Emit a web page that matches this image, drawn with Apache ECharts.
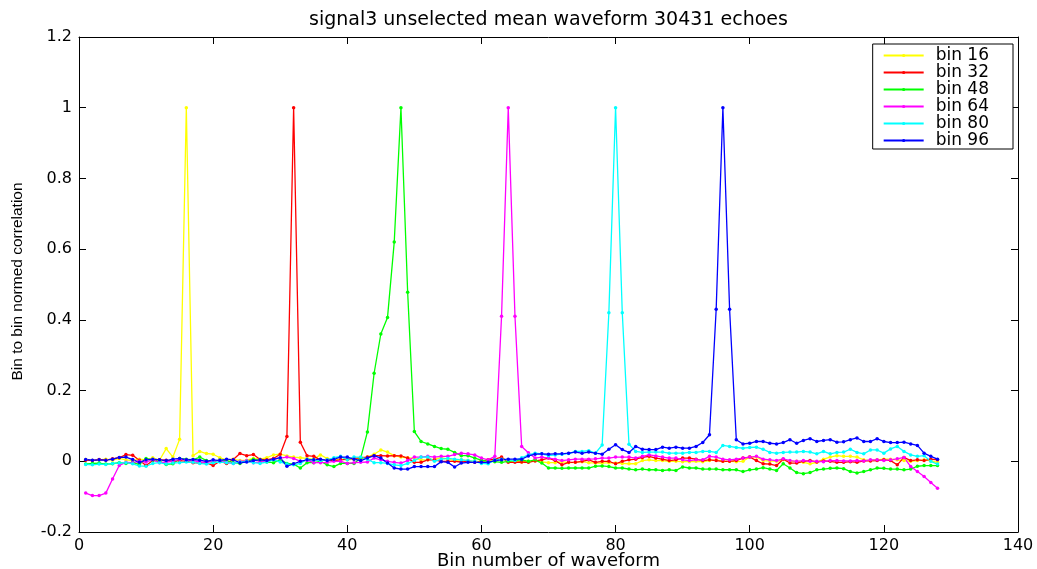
<!DOCTYPE html>
<html>
<head>
<meta charset="utf-8">
<script src="https://cdn.jsdelivr.net/npm/echarts/dist/echarts.min.js"></script>
<style>
html,body{margin:0;padding:0;background:#fff;}
#chart{width:1037px;height:569px;}
</style>
</head>
<body>
<div id="chart"></div>
<script>
const titleText = 'signal3 unselected mean waveform 30431 echoes';
const xName = 'Bin number of waveform';
const yName = 'Bin to bin normed correlation';
const seriesNames = ['bin 16', 'bin 32', 'bin 48', 'bin 64', 'bin 80', 'bin 96'];
const seriesColors = ['#ffff00', '#ff0000', '#00ff00', '#ff00ff', '#00ffff', '#0000ff'];
const xTicks = [0, 20, 40, 60, 80, 100, 120, 140];
const yTicks = [-0.2, 0, 0.2, 0.4, 0.6, 0.8, 1, 1.2];

const bin16 = [
 0.005, 0.002, 0.004, 0.006, 0.003, 0.008, 0.004, 0.002, 0.006, 0.004, 0.010, 0.003, 0.036, 0.012, 0.062, 1.000,
 0.016, 0.028, 0.022, 0.020, 0.010, 0.004, 0.006, 0.002, 0.003, 0.008, 0.006, 0.010, 0.018, 0.020, 0.015, 0.012,
 0.010, 0.008, 0.006, 0.018, 0.008, 0.004, 0.006, 0.004, 0.006, 0.008, 0.012, 0.020, 0.032, 0.026, 0.016, 0.012,
 0.010, 0.008, 0.004, 0.004, 0.006, 0.010, 0.006, 0.002, 0.004, 0.002, 0.000, 0.000, 0.002, 0.004, 0.006, 0.002,
 0.000, -0.002, 0.000, 0.002, -0.002, -0.004, -0.004, -0.001, -0.004, -0.003, -0.001, -0.004, -0.005, -0.005, -0.004, -0.005,
 -0.006, -0.007, -0.007, 0.002, 0.004, 0.002, 0.002, 0.000, 0.000, -0.001, -0.001, 0.000, -0.001, 0.002, 0.004, 0.000,
 0.000, -0.001, 0.000, 0.012, 0.012, 0.002, 0.001, 0.000, 0.004, 0.000, 0.000, -0.003, -0.007, -0.003, 0.006, 0.012,
 0.016, 0.014, 0.014, 0.012, 0.004, 0.002, 0.004, 0.006, 0.006, 0.004, 0.002, 0.000, 0.002, 0.004, 0.001, -0.003
];
const bin32 = [
 0.003, 0.002, 0.005, 0.003, 0.007, 0.010, 0.019, 0.017, 0.003, -0.012, 0.002, 0.004, 0.003, 0.000, 0.002, 0.000,
 -0.004, -0.005, -0.004, -0.012, 0.000, -0.006, 0.005, 0.022, 0.016, 0.019, 0.005, 0.004, 0.008, 0.020, 0.070, 1.000,
 0.054, 0.016, 0.014, 0.004, 0.004, 0.002, 0.004, 0.006, 0.008, 0.010, 0.012, 0.016, 0.016, 0.015, 0.016, 0.015,
 0.009, -0.003, -0.003, 0.004, 0.004, 0.000, 0.000, 0.000, -0.002, 0.000, -0.003, 0.000, 0.004, 0.006, 0.012, -0.003,
 -0.003, -0.002, -0.003, 0.001, 0.004, 0.009, 0.002, -0.010, -0.003, -0.003, 0.000, 0.004, -0.003, 0.000, 0.000, -0.007,
 0.000, 0.004, 0.006, 0.011, 0.014, 0.009, 0.006, 0.002, 0.004, 0.009, 0.009, 0.006, 0.002, 0.004, 0.002, 0.000,
 0.000, 0.002, 0.009, 0.012, 0.002, -0.007, -0.008, -0.012, 0.006, -0.005, -0.005, 0.000, 0.002, -0.002, 0.001, 0.000,
 -0.003, -0.003, -0.001, -0.003, 0.001, 0.001, 0.002, 0.004, 0.002, -0.010, 0.011, 0.002, 0.004, 0.002, 0.006, 0.004
];
const bin48 = [
 -0.008, -0.006, -0.005, -0.008, -0.007, -0.004, -0.006, -0.003, -0.009, 0.008, 0.003, 0.000, -0.009, -0.007, 0.008, 0.006,
 0.004, 0.012, 0.002, -0.002, 0.004, 0.002, -0.004, -0.006, 0.000, 0.006, 0.002, -0.002, -0.004, 0.004, -0.006, -0.008,
 -0.019, -0.004, -0.004, 0.000, -0.010, -0.015, -0.006, -0.006, -0.006, 0.009, 0.083, 0.249, 0.360, 0.407, 0.620, 1.000,
 0.478, 0.084, 0.056, 0.049, 0.042, 0.036, 0.034, 0.025, 0.016, 0.016, 0.009, 0.003, 0.000, -0.001, -0.003, 0.000,
 0.002, 0.004, 0.000, 0.004, -0.005, -0.019, -0.019, -0.020, -0.019, -0.019, -0.019, -0.019, -0.014, -0.013, -0.015, -0.019,
 -0.019, -0.022, -0.024, -0.022, -0.024, -0.024, -0.026, -0.024, -0.026, -0.016, -0.019, -0.019, -0.022, -0.022, -0.022, -0.024,
 -0.024, -0.024, -0.029, -0.024, -0.022, -0.018, -0.022, -0.026, -0.007, -0.019, -0.032, -0.035, -0.032, -0.024, -0.022, -0.020,
 -0.019, -0.021, -0.029, -0.033, -0.029, -0.024, -0.019, -0.020, -0.022, -0.022, -0.024, -0.022, -0.014, -0.012, -0.012, -0.012
];
const bin64 = [
 -0.090, -0.097, -0.097, -0.090, -0.050, -0.012, -0.003, -0.004, 0.000, -0.002, 0.004, -0.004, -0.002, 0.000, 0.006, 0.004,
 0.002, -0.002, -0.003, 0.000, 0.003, -0.003, -0.006, 0.000, 0.002, -0.004, -0.002, 0.000, 0.006, 0.009, 0.012, 0.008,
 0.000, 0.003, -0.004, -0.004, -0.003, 0.000, 0.000, -0.006, -0.004, -0.003, -0.002, 0.009, 0.004, 0.000, -0.003, -0.005,
 0.002, 0.012, 0.012, 0.014, 0.012, 0.014, 0.014, 0.019, 0.023, 0.021, 0.018, 0.009, 0.004, 0.014, 0.410, 1.000,
 0.410, 0.042, 0.024, 0.009, 0.012, 0.009, 0.006, 0.002, 0.004, 0.006, 0.006, 0.006, 0.007, 0.009, 0.009, 0.012,
 0.012, 0.012, 0.009, 0.014, 0.018, 0.015, 0.012, 0.009, 0.009, 0.004, 0.002, 0.004, 0.004, 0.014, 0.012, 0.006,
 0.004, 0.006, 0.009, 0.012, 0.014, 0.006, 0.004, 0.002, 0.007, 0.002, 0.000, 0.002, 0.000, 0.000, -0.001, 0.002,
 0.002, 0.001, 0.001, 0.002, 0.001, 0.004, 0.004, 0.002, 0.004, 0.007, 0.011, -0.015, -0.029, -0.043, -0.060, -0.076
];
const bin80 = [
 -0.009, -0.010, -0.008, -0.009, -0.006, -0.005, -0.004, -0.007, -0.013, -0.014, -0.006, -0.004, -0.008, -0.005, -0.004, -0.002,
 -0.003, -0.006, -0.008, -0.004, -0.002, -0.004, -0.006, -0.002, 0.000, -0.004, -0.006, -0.002, 0.004, -0.002, -0.008, -0.010,
 -0.006, 0.006, 0.004, 0.002, 0.004, 0.010, 0.014, 0.004, 0.012, 0.012, 0.006, -0.004, -0.004, -0.006, -0.010, -0.012,
 -0.006, 0.002, 0.012, 0.012, 0.000, 0.006, 0.008, 0.006, 0.004, 0.002, 0.000, -0.006, -0.007, 0.004, 0.006, 0.004,
 0.002, 0.010, 0.018, 0.023, 0.021, 0.016, 0.018, 0.020, 0.022, 0.028, 0.028, 0.030, 0.023, 0.046, 0.420, 1.000,
 0.420, 0.048, 0.028, 0.025, 0.026, 0.026, 0.026, 0.023, 0.023, 0.023, 0.025, 0.025, 0.028, 0.028, 0.025, 0.045,
 0.042, 0.039, 0.037, 0.039, 0.040, 0.034, 0.025, 0.023, 0.025, 0.026, 0.026, 0.028, 0.026, 0.021, 0.028, 0.021,
 0.025, 0.026, 0.034, 0.025, 0.021, 0.032, 0.032, 0.023, 0.035, 0.042, 0.028, 0.018, 0.014, 0.016, 0.000, -0.008
];
const bin96 = [
 0.005, 0.003, 0.004, 0.003, 0.006, 0.011, 0.012, 0.005, -0.003, 0.004, 0.006, 0.004, 0.002, 0.006, 0.008, 0.004,
 0.005, 0.003, 0.000, 0.004, 0.002, 0.006, 0.004, -0.004, -0.002, 0.002, 0.004, 0.002, 0.006, 0.010, -0.014, -0.007,
 0.000, 0.004, 0.004, 0.006, 0.002, 0.006, 0.012, 0.012, 0.006, 0.002, 0.009, 0.016, 0.009, -0.005, -0.019, -0.022,
 -0.022, -0.015, -0.015, -0.015, -0.015, -0.001, -0.003, -0.016, -0.005, -0.003, -0.003, -0.003, -0.003, 0.002, 0.004, 0.006,
 0.006, 0.006, 0.015, 0.020, 0.021, 0.020, 0.021, 0.021, 0.023, 0.026, 0.023, 0.026, 0.023, 0.020, 0.034, 0.047,
 0.033, 0.025, 0.042, 0.034, 0.033, 0.033, 0.040, 0.037, 0.040, 0.037, 0.037, 0.042, 0.053, 0.075, 0.430, 1.000,
 0.430, 0.061, 0.049, 0.051, 0.056, 0.056, 0.051, 0.049, 0.053, 0.061, 0.051, 0.059, 0.064, 0.056, 0.059, 0.061,
 0.054, 0.055, 0.061, 0.066, 0.056, 0.056, 0.064, 0.056, 0.053, 0.053, 0.054, 0.049, 0.045, 0.023, 0.014, 0.006
];

const seriesValues = [bin16, bin32, bin48, bin64, bin80, bin96];
const binNumbers = bin16.map((_, i) => i + 1);

const FONT = 'DejaVu Sans';
const fmtY = v => String(+(+v).toFixed(1));

const chart = echarts.init(document.getElementById('chart'), null, {renderer: 'canvas'});

const xInterval = xTicks[1] - xTicks[0];
const yInterval = +(yTicks[1] - yTicks[0]).toFixed(1);

const axisCommon = {
  axisLine: {show: true, onZero: false, lineStyle: {color: '#000', width: 1}},
  axisTick: {show: true, inside: true, length: 7, lineStyle: {color: '#000', width: 1}},
  splitLine: {show: false}
};

const option = {
  animation: false,
  backgroundColor: '#fff',
  title: {
    text: titleText,
    left: 309,
    top: 11,
    padding: 0,
    textStyle: {fontFamily: FONT, fontSize: 19, fontWeight: 'normal', color: '#000'}
  },
  legend: {
    data: seriesNames,
    orient: 'vertical',
    right: 24,
    top: 44,
    itemWidth: 40,
    itemHeight: 4,
    itemGap: 0,
    padding: [3, 24, 0, 10],
    backgroundColor: '#fff',
    borderColor: '#000',
    borderWidth: 1,
    borderRadius: 0,
    selectedMode: false,
    textStyle: {fontFamily: FONT, fontSize: 17, color: '#000', padding: [0, 0, 0, 7]}
  },
  grid: {left: 79, right: 19, top: 37, bottom: 37, containLabel: false, outerBoundsMode: 'none'},
  xAxis: [
    Object.assign({}, axisCommon, {
      type: 'value', min: xTicks[0], max: xTicks[xTicks.length - 1], interval: xInterval,
      position: 'bottom',
      name: xName, nameLocation: 'middle', nameGap: 20, nameMoveOverlap: false,
      nameTextStyle: {fontFamily: FONT, fontSize: 18, color: '#000'},
      axisLabel: {fontFamily: FONT, fontSize: 16, color: '#000', margin: 6}
    }),
    Object.assign({}, axisCommon, {
      type: 'value', min: xTicks[0], max: xTicks[xTicks.length - 1], interval: xInterval,
      position: 'top', axisLabel: {show: false}
    })
  ],
  yAxis: [
    Object.assign({}, axisCommon, {
      type: 'value', min: yTicks[0], max: yTicks[yTicks.length - 1], interval: yInterval,
      position: 'left',
      name: yName, nameLocation: 'middle', nameGap: 53, nameRotate: 90, nameMoveOverlap: false,
      nameTextStyle: {fontFamily: 'Liberation Sans', fontSize: 15.5, color: '#000', padding: [0, 0, 0, 6]},
      axisLabel: {fontFamily: FONT, fontSize: 16, color: '#000', margin: 7, formatter: fmtY}
    }),
    Object.assign({}, axisCommon, {
      type: 'value', min: yTicks[0], max: yTicks[yTicks.length - 1], interval: yInterval,
      position: 'right', axisLabel: {show: false}
    })
  ],
  series: seriesNames.map((name, k) => ({
    name: name,
    type: 'line',
    xAxisIndex: 0,
    yAxisIndex: 0,
    data: seriesValues[k].map((v, i) => [binNumbers[i], v]),
    color: seriesColors[k],
    symbol: 'circle',
    symbolSize: 3.5,
    showSymbol: true,
    showAllSymbol: true,
    lineStyle: {width: 1.3, color: seriesColors[k]},
    itemStyle: {color: seriesColors[k]},
    emphasis: {disabled: true},
    silent: true
  }))
};

chart.setOption(option);
</script>
</body>
</html>
